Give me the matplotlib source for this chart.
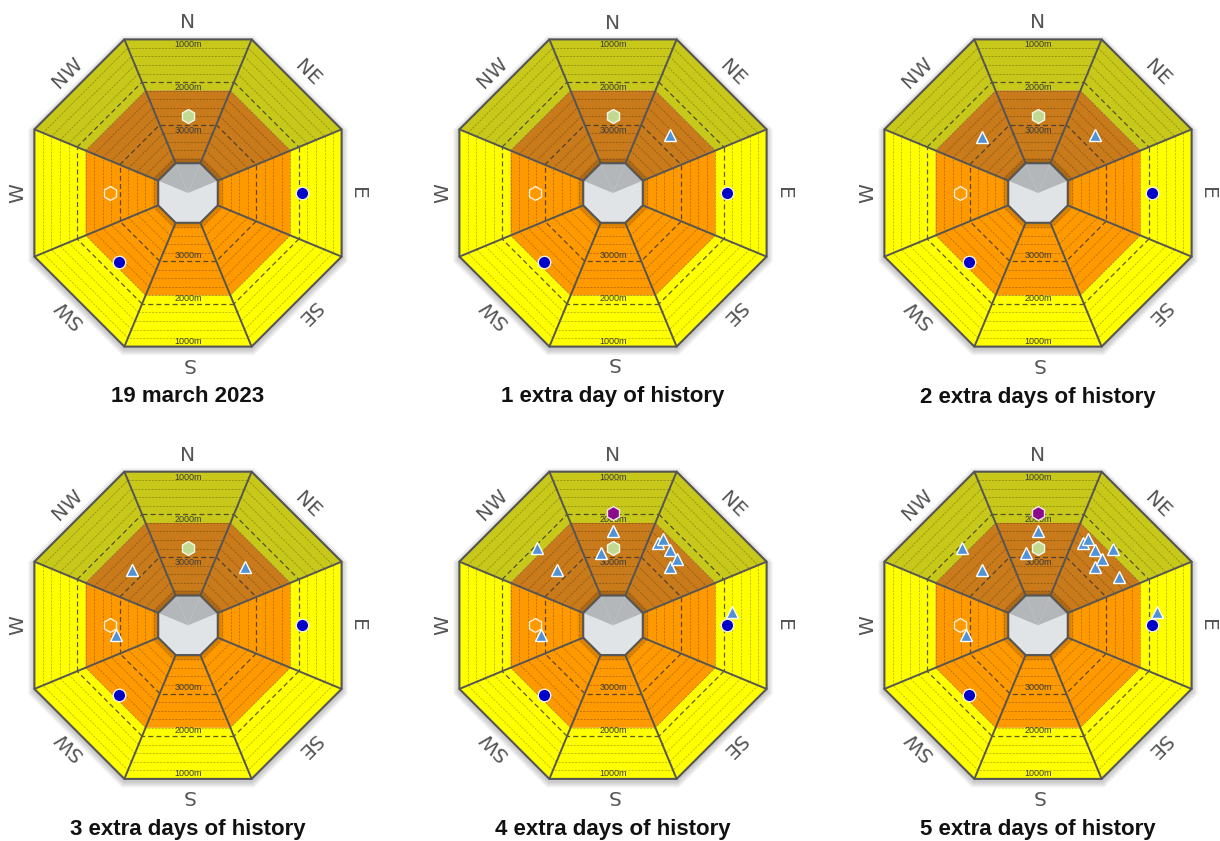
import numpy as np
import matplotlib
matplotlib.use("Agg")
import matplotlib.pyplot as plt
from matplotlib.patches import Polygon

# ---------------- data ----------------
panel_titles = ["19 march 2023", "1 extra day of history", "2 extra days of history",
                "3 extra days of history", "4 extra days of history", "5 extra days of history"]
panel_days = [0, 1, 2, 3, 4, 5]

aspect_names = ["N", "NE", "E", "SE", "S", "SW", "W", "NW"]
aspect_bearings = [0, 45, 90, 135, 180, 225, 270, 315]
shaded_aspects = ["NW", "N", "NE"]

elev_inner = 3900      # edge of central octagon
elev_danger = 2200     # orange / yellow boundary
elev_outer = 1000      # outer edge
elev_marked = [1000, 2000, 3000]
stripe_step = 200

# observations: kind, bearing (deg), elevation (m), day of history in which it appears
obs_kind = ["green_hex", "orange_hex", "blue_dot", "blue_dot",
            "triangle", "triangle", "triangle",
            "purple_hex", "triangle", "triangle", "triangle", "triangle", "triangle",
            "triangle", "triangle", "triangle",
            "triangle", "triangle"]
obs_bearing = [0, 270, 90, 225,
               44.5, 315, 262,
               0, 0, 350.4, 28.9, 30.3, 37.1, 44.3, 315.3, 83.4,
               44.5, 59.2]
obs_elev = [2790, 2775, 1930, 2300,
            2685, 2750, 2905,
            1965, 2390, 2895, 2490, 2340, 2405, 2440, 2060, 1810,
            2100, 2455]
obs_day = [0, 0, 0, 0,
           1, 2, 3,
           4, 4, 4, 4, 4, 4, 4, 4, 4,
           5, 5]

# ---------------- style ----------------
col_yellow, col_orange = "#ffff00", "#ff9900"
col_yellow_sh, col_orange_sh = "#c8c81a", "#c97b1b"
col_line = "#555555"
marker_style = {
    "green_hex": dict(marker="h", ms=10, mfc="#c2d991", mec="#f4f8ea", mew=1.0, zorder=20),
    "orange_hex": dict(marker="h", ms=10, mfc="#ff9900", mec="#fff1dc", mew=1.0, zorder=20),
    "purple_hex": dict(marker="h", ms=10, mfc="#8a0a8a", mec="#f4e8f4", mew=1.0, zorder=20),
    "triangle": dict(marker="^", ms=9, mfc="#4f92d6", mec="white", mew=1.0, zorder=21),
    "blue_dot": dict(marker="o", ms=9, mfc="#0000c8", mec="#f2f2e0", mew=1.0, zorder=22),
}

C225 = np.cos(np.radians(22.5))


def rad(e):
    """apothem distance of an elevation contour (axis units)"""
    return 25.5 + (4000 - e) * 0.0427


def pt(bearing, r):
    b = np.radians(bearing)
    return r * np.sin(b), r * np.cos(b)


def octagon(a, dy=0.0):
    R = a / C225
    return [(pt(b, R)[0], pt(b, R)[1] + dy) for b in np.arange(22.5, 360, 45)]


def band(b, a1, a2):
    R1, R2 = a1 / C225, a2 / C225
    return [pt(b - 22.5, R1), pt(b + 22.5, R1), pt(b + 22.5, R2), pt(b - 22.5, R2)]


def obs_xy(bearing, elev):
    centre = round(bearing / 45.0) * 45.0
    R = rad(elev) / np.cos(np.radians(bearing - centre))
    return pt(bearing, R)


W, H = 1220, 841
fig = plt.figure(figsize=(W / 100, H / 100), dpi=100)
fig.patch.set_facecolor("white")

centres = [(188, 193), (613, 193), (1038, 193), (188, 625.3), (613, 625.3), (1038, 625.3)]
HW = 200

for idx, (cx, cy) in enumerate(centres):
    ax = fig.add_axes([(cx - HW) / W, (H - cy - HW) / H, 2 * HW / W, 2 * HW / H])
    ax.set_xlim(-HW, HW)
    ax.set_ylim(-HW, HW)
    ax.set_aspect("equal")
    ax.axis("off")

    a_out, a_dan, a_in = rad(elev_outer), rad(elev_danger), rad(elev_inner)

    # drop shadow
    for k in range(1, 8):
        ax.add_patch(Polygon(octagon(a_out + k * 0.9, dy=-2.5), closed=True,
                             fc="black", ec="none", alpha=0.03, zorder=0))

    # fills
    for name, b in zip(aspect_names, aspect_bearings):
        sh = name in shaded_aspects
        ax.add_patch(Polygon(band(b, a_dan, a_out), closed=True,
                             fc=col_yellow_sh if sh else col_yellow, ec="none", zorder=1))
        ax.add_patch(Polygon(band(b, a_in, a_dan), closed=True,
                             fc=col_orange_sh if sh else col_orange, ec="none", zorder=1))

    # halo around central octagon
    for k in range(1, 7):
        ax.add_patch(Polygon(octagon(a_in + k * 1.0), closed=True,
                             fc="black", ec="none", alpha=0.035, zorder=2))

    # stripes and dashed contours
    for b in aspect_bearings:
        for e in range(elev_outer + stripe_step, elev_inner, stripe_step):
            a = rad(e)
            p1, p2 = pt(b - 22.5, a / C225), pt(b + 22.5, a / C225)
            if e in elev_marked:
                ax.plot([p1[0], p2[0]], [p1[1], p2[1]], color="#333333", lw=0.9,
                        ls=(0, (4, 2.5)), alpha=0.8, zorder=4)
            else:
                ax.plot([p1[0], p2[0]], [p1[1], p2[1]], color="black", lw=0.6,
                        ls=(0, (2.5, 1.5)), alpha=0.28, zorder=3)

    # sector boundaries
    for b in np.arange(22.5, 360, 45):
        p1, p2 = pt(b, a_in / C225), pt(b, a_out / C225)
        ax.plot([p1[0], p2[0]], [p1[1], p2[1]], color=col_line, lw=1.4, zorder=6,
                solid_capstyle="round")
    ax.add_patch(Polygon(octagon(a_out), closed=True, fc="none", ec=col_line, lw=1.5, zorder=6))

    # central octagon
    ax.add_patch(Polygon(octagon(a_in), closed=True, fc="#e1e4e7", ec="none", zorder=7))
    for name, b in zip(aspect_names, aspect_bearings):
        if name in shaded_aspects:
            ax.add_patch(Polygon([(0, 0), pt(b - 22.5, a_in / C225), pt(b + 22.5, a_in / C225)],
                                 closed=True, fc="#b3b7ba", ec="none", zorder=7))
    ax.add_patch(Polygon(octagon(a_in), closed=True, fc="none", ec=col_line, lw=1.5, zorder=8))

    # elevation labels in N and S sectors
    for e in elev_marked:
        a = rad(e)
        ax.text(0, a - 1.0, f"{e}m", ha="center", va="top", fontsize=6.5,
                family="Liberation Sans", color="#3a3a3a", zorder=9)
        ax.text(0, -a + 1.0, f"{e}m", ha="center", va="bottom", fontsize=6.5,
                family="Liberation Sans", color="#3a3a3a", zorder=9)

    # compass labels
    for name, b in zip(aspect_names, aspect_bearings):
        x, y = pt(b, 170)
        ax.text(x, y, name, rotation=-b, rotation_mode="anchor", ha="center", va="center",
                fontsize=14.5, family="DejaVu Sans", color="#555555", zorder=9)

    # observations
    day = panel_days[idx]
    for kind, b, e, d in zip(obs_kind, obs_bearing, obs_elev, obs_day):
        if d <= day:
            x, y = obs_xy(b, e)
            ax.plot([x], [y], ls="none", **marker_style[kind])

    ax.text(0, -204, panel_titles[idx], ha="center", va="center", fontsize=16,
            fontweight="bold", family="Liberation Sans", color="#111111", clip_on=False)

fig.savefig("out.png", dpi=100, facecolor="white")
